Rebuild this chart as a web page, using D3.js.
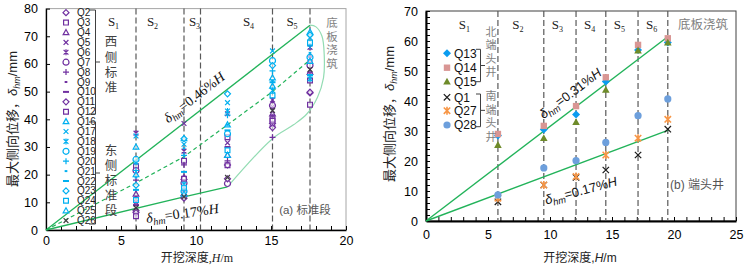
<!DOCTYPE html>
<html><head><meta charset="utf-8">
<script src="https://cdn.jsdelivr.net/npm/d3@7"></script>
<style>body{margin:0;background:#fff} svg{display:block}</style>
</head><body>
<svg id="c" width="748" height="267"></svg>
<script>
// ---------- DATA ----------
const leftDepths = [6, 9.2, 12.1, 15.1, 17.6];
const westNames = ["Q2","Q3","Q4","Q5","Q6","Q7","Q8","Q9","Q10","Q11","Q12"];
const westMarkers = ["diamond","square","triangle","x","star","circle","plus","dash","ldash","diamond","square"];
const westValues = [
  [7, 12.5, 23.5, 38.5, 49.5],
  [23, 25, 33.5, 40, 54],
  [13, 19, 27, 42, 57],
  [10, 38.5, 31.5, 44.5, 62],
  [35, 28.5, 42, 47, 66],
  [21.5, 17, 16.8, 45, 59.5],
  [18, 23.5, 25, 33.5, 57],
  [12, 15, 24, 41.5, 63],
  [9, 14, 30, 37.5, 60.5],
  [6.3, 11.5, 18.5, 37, 49.8],
  [5, 18.5, 23.4, 39.5, 45.3]
];
const eastNames = ["Q16","Q17","Q18","Q19","Q20","Q21","Q22","Q23","Q24","Q25","Q26"];
const eastMarkers = ["triangle","x","star","circle","plus","dash","ldash","diamond","square","triangle","x"];
const eastValues = [
  [30, 33, 38, 52, 71.5],
  [34, 31, 46, 64.7, 69.5],
  [24.5, 16.5, 43, 50.4, 54.6],
  [25.5, 14, 34.8, 61.2, 62.4],
  [21.5, 27, 41.5, 57.5, 66.5],
  [19, 29.5, 38, 54, 64],
  [14.5, 21, 36, 53.4, 56],
  [16.2, 33, 49.2, 59.4, 70.5],
  [10.8, 15.3, 28.8, 48.6, 67.7],
  [20, 13, 27, 55, 61],
  [8, 12, 19, 43.2, 58]
];
const leftStageLines = [6, 9.2, 10.3, 15.1, 17.6];
const leftStageNames = ["1","2","3","4","5"];
const leftStageLabelX = [4.5, 7.1, 9.9, 13.5, 16.4];
const leftUpperLine = [[0,0],[17.6,74]];
const leftMeanLine = [[0,0],[6,17],[9.2,26.5],[12.1,38],[15.1,50],[17.6,61.5]];
const leftLowerLine = [[0,0],[9.2,12],[12.1,15.6]];
const leftEnvelope = [[12.1,15.6],[15.1,33],[16.5,38],[17.4,42],[18.1,48],[18.5,55],[18.55,63],[18.4,70],[18.0,73.4],[17.6,74]];
const leftXTicks = [0,5,10,15,20];
const leftYTicks = [0,10,20,30,40,50,60,70,80];

const rightDepths = [5.8, 9.5, 12.1, 14.5, 17.1, 19.5];
const rightNames = ["Q13","Q14","Q15","Q1","Q27","Q28"];
const rightMarkers = ["diamond","square","triangle","x","star","circle"];
const rightColors = ["#0a9cf0","#d99694","#6e8b2a","#1a1a1a","#f79646","#6d9fdc"];
const rightValues = [
  [28.5, 30.5, 35.5, 46.5, 57, 59.5],
  [29, 31.7, 38.3, 47.9, 58.7, 60.9],
  [25.3, 27.6, 32.9, 43.7, 56.8, 59.4],
  [6.4, 12, 14.5, 17, 22, 30.6],
  [7.6, 12, 14.8, 22, 27.6, 33.9],
  [8.7, 17.7, 20.1, 26.2, 35.1, 40.7]
];
const rightStageLines = [5.8, 9.5, 12.1, 14.5, 17.1, 19.5];
const rightStageNames = ["1","2","3","4","5","6"];
const rightStageLabelX = [3.1, 7.4, 10.6, 13.2, 15.6, 18.2];
const rightUpperLine = [[0,0],[19.55,61.6]];
const rightLowerLine = [[0,0],[19.55,30.3]];
const rightXTicks = [0,5,10,15,20,25];
const rightYTicks = [0,10,20,30,40,50,60,70];

// ---------- DRAW ----------
const svg = d3.select("#c");
const GREEN = "#22b35a", LIGHTG = "#93dcb3", PURPLE = "#7030a0", BLUE = "#00b0f0";
const SANS = "'Liberation Sans', Arial, sans-serif";
const SERIF = "'Liberation Serif', 'Times New Roman', serif";
const CJK = "'Noto Sans CJK SC', sans-serif";

function markerPath(type, r) {
  const k = r * 0.8;
  switch (type) {
    case "diamond": return `M0,${-r}L${r},0L0,${r}L${-r},0Z`;
    case "square": return `M${-k},${-k}H${k}V${k}H${-k}Z`;
    case "triangle": return `M0,${-r}L${r*0.95},${r*0.7}L${-r*0.95},${r*0.7}Z`;
    case "x": return `M${-k},${-k}L${k},${k}M${-k},${k}L${k},${-k}`;
    case "star": return `M${-k},${-k}L${k},${k}M${-k},${k}L${k},${-k}M0,${-r}L0,${r}`;
    case "circle": return `M${r},0A${r},${r} 0 1,1 ${-r},0A${r},${r} 0 1,1 ${r},0Z`;
    case "plus": return `M${-r},0H${r}M0,${-r}V${r}`;
    case "dash": return `M${-r*0.45},0H${r*0.45}`;
    case "ldash": return `M${-r},0H${r}`;
  }
}
const strokeOnly = t => ["x","star","plus","dash","ldash"].includes(t);

function deltaText(sel, value) {
  sel.append("tspan").attr("font-style","italic").text("δ");
  sel.append("tspan").attr("font-style","italic").attr("font-size","0.72em").attr("dy",3).text("hm");
  sel.append("tspan").attr("dy",-3).text("=" + value + "%");
  sel.append("tspan").attr("font-style","italic").text("H");
}

// vertical CJK text: a single text node laid out top-to-bottom
function verticalText(g, str, x, yCenterFirst, step, size, color) {
  g.append("text").attr("x", x).attr("y", yCenterFirst - size / 2)
    .attr("writing-mode","vertical-rl").style("text-orientation","upright")
    .attr("letter-spacing", step - size)
    .attr("font-family", CJK).attr("font-size", size).attr("fill", color).text(str);
}

function panel(cfg) {
  const g = svg.append("g");
  const x = d3.scaleLinear().domain(cfg.xDomain).range(cfg.xRange);
  const y = d3.scaleLinear().domain(cfg.yDomain).range(cfg.yRange);
  g.append("rect").attr("x", cfg.xRange[0]).attr("y", cfg.yRange[1])
    .attr("width", cfg.xRange[1]-cfg.xRange[0]).attr("height", cfg.yRange[0]-cfg.yRange[1])
    .attr("fill","none").attr("stroke", cfg.frameColor).attr("stroke-width",1);
  const xa = g.append("g").attr("transform",`translate(0,${cfg.yRange[0]})`)
    .call(d3.axisBottom(x).tickValues(cfg.xTicks).tickSize(0).tickPadding(cfg.xPad).tickFormat(d3.format("d")));
  const xm = g.append("g").attr("transform",`translate(0,${cfg.yRange[0]})`)
    .call(d3.axisTop(x).ticks(cfg.xDomain[1]).tickSize(cfg.tickLen).tickFormat(""));
  const ya = g.append("g").attr("transform",`translate(${cfg.xRange[0]},0)`)
    .call(d3.axisLeft(y).tickValues(cfg.yTicks).tickSize(0).tickPadding(8).tickFormat(d3.format("d")));
  const ym = g.append("g").attr("transform",`translate(${cfg.xRange[0]},0)`)
    .call(d3.axisRight(y).ticks(cfg.yMinor).tickSize(cfg.tickLen).tickFormat(""));
  [xa, ya].forEach(a => {
    a.select(".domain").attr("stroke","#000").attr("stroke-width", cfg.axisW);
    a.selectAll("text").attr("font-family", SANS).attr("font-size", 12.5).attr("fill","#000");
  });
  [xm, ym].forEach(a => { a.select(".domain").remove(); a.selectAll("line").attr("stroke","#000").attr("stroke-width",1); });
  g.selectAll(".st").data(cfg.stageLines).join("line")
    .attr("x1", d => x(d)).attr("x2", d => x(d)).attr("y1", cfg.yRange[1]).attr("y2", cfg.yRange[0])
    .attr("stroke","#595959").attr("stroke-width",1.2).attr("stroke-dasharray","6,3");
  cfg.stageNames.forEach((n, i) => {
    const t = g.append("text").attr("x", x(cfg.stageLabelX[i])).attr("y", cfg.stageY)
      .attr("text-anchor","middle").attr("font-family", SERIF).attr("font-size", 13).attr("fill","#222");
    t.append("tspan").text("S");
    t.append("tspan").attr("font-size", 8).attr("dy", 3).text(n);
  });
  return {g, x, y};
}

// ---------- LEFT PANEL ----------
const L = panel({xDomain:[0,20], xRange:[46,346], yDomain:[0,80], yRange:[230,8.6], xPad:6,
  xTicks:leftXTicks, yTicks:leftYTicks, yMinor:8, tickLen:4, axisW:1.3, frameColor:"#a6a6a6",
  stageLines:leftStageLines, stageNames:leftStageNames, stageLabelX:leftStageLabelX, stageY:26});
const lineGen = s => d3.line().x(d => s.x(d[0])).y(d => s.y(d[1]));
L.g.append("path").attr("d", lineGen(L)(leftUpperLine)).attr("fill","none").attr("stroke",GREEN).attr("stroke-width",1.3);
L.g.append("path").attr("d", lineGen(L)(leftMeanLine)).attr("fill","none").attr("stroke",GREEN).attr("stroke-width",1.2).attr("stroke-dasharray","4,3");
L.g.append("path").attr("d", lineGen(L)(leftLowerLine)).attr("fill","none").attr("stroke",GREEN).attr("stroke-width",1.3);
L.g.append("path").attr("d", lineGen(L).curve(d3.curveCatmullRom)(leftEnvelope)).attr("fill","none").attr("stroke",LIGHTG).attr("stroke-width",1.2);

const leftSeries = westNames.map((n,i)=>({name:n, type:westMarkers[i], color:PURPLE, values:westValues[i]}))
  .concat(eastNames.map((n,i)=>({name:n, type:eastMarkers[i], color: n==="Q26" ? "#404040" : BLUE, values:eastValues[i]})));
leftSeries.forEach(s => {
  L.g.selectAll(null).data(s.values.map((v,i)=>[leftDepths[i], v])).join("path")
    .attr("transform", d => `translate(${L.x(d[0])},${L.y(d[1])})`)
    .attr("d", markerPath(s.type, 3))
    .attr("fill", "#fff").attr("fill-opacity", strokeOnly(s.type) ? 0 : 0.6)
    .attr("stroke", s.color).attr("stroke-width", (s.type==="dash"||s.type==="ldash") ? 2 : 1.2);
});
leftSeries.forEach((s, i) => {
  const yy = 12.7 + i * 9.9;
  L.g.append("path").attr("transform",`translate(66,${yy})`).attr("d", markerPath(s.type, 3))
    .attr("fill","none").attr("stroke", s.color).attr("stroke-width", (s.type==="dash"||s.type==="ldash") ? 2 : 1.2);
  L.g.append("text").attr("x",77).attr("y",yy+3.5).attr("font-family",SANS).attr("font-size",10).attr("fill","#222").text(s.name);
});
function bracket(g, x0, x1, y0, y1, xt) {
  const ym = (y0+y1)/2;
  g.append("path").attr("d",`M${x0},${y0}H${x1}V${y1}H${x0}M${x1},${ym}H${xt}`)
    .attr("fill","none").attr("stroke","#404040").attr("stroke-width",1);
}
bracket(L.g, 89, 95.5, 10, 114, 100);
bracket(L.g, 89, 95.5, 122, 224, 100);
verticalText(L.g, "西侧标准", 111, 41.7, 15.2, 12.5, "#404040");
verticalText(L.g, "东侧标准段", 111, 150.7, 15, 12.5, "#404040");
verticalText(L.g, "底板浇筑", 332, 22.3, 13.9, 11.5, "#7f7f7f");
L.g.append("text").attr("transform","translate(197,101) rotate(-38)").attr("text-anchor","middle")
  .attr("font-family",SERIF).attr("font-size",14).attr("fill","#111").call(deltaText, "0.46");
L.g.append("text").attr("transform","translate(183,218) rotate(-8)").attr("text-anchor","middle")
  .attr("font-family",SERIF).attr("font-size",14).attr("fill","#111").call(deltaText, "0.17");
const tA = L.g.append("text").attr("x",305).attr("y",214).attr("text-anchor","middle").attr("font-size",11.5).attr("fill","#555");
tA.append("tspan").attr("font-family",SANS).text("(a) ");
tA.append("tspan").attr("font-family",CJK).text("标准段");
const xtL = L.g.append("text").attr("x",197).attr("y",262).attr("text-anchor","middle").attr("font-size",12).attr("fill","#222");
xtL.append("tspan").attr("font-family",CJK).text("开挖深度");
xtL.append("tspan").attr("font-family",SERIF).text(",");
xtL.append("tspan").attr("font-family",SERIF).attr("font-style","italic").text("H");
xtL.append("tspan").attr("font-family",SERIF).text("/m");
function yTitle(g, cx, cy) {
  const t = g.append("text").attr("transform",`translate(${cx},${cy}) rotate(-90)`).attr("text-anchor","middle")
    .attr("font-size",13).attr("fill","#222");
  t.append("tspan").attr("font-family",CJK).text("最大侧向位移，");
  t.append("tspan").attr("font-family",SANS).attr("font-style","italic").text("δ");
  t.append("tspan").attr("font-family",SANS).attr("font-style","italic").attr("font-size",9).attr("dy",3).text("hm");
  t.append("tspan").attr("font-family",SANS).attr("dy",-3).text("/mm");
}
yTitle(L.g, 17, 119);

// ---------- RIGHT PANEL ----------
const R = panel({xDomain:[0,25], xRange:[426,736], yDomain:[0,70], yRange:[221,11], xPad:9,
  xTicks:rightXTicks, yTicks:rightYTicks, yMinor:35, tickLen:4, axisW:2, frameColor:"#404040",
  stageLines:rightStageLines, stageNames:rightStageNames, stageLabelX:rightStageLabelX, stageY:29});
R.g.append("path").attr("d", lineGen(R)(rightUpperLine)).attr("fill","none").attr("stroke",GREEN).attr("stroke-width",1.4);
R.g.append("path").attr("d", lineGen(R)(rightLowerLine)).attr("fill","none").attr("stroke",GREEN).attr("stroke-width",1.4);
rightNames.forEach((n, k) => {
  const t = rightMarkers[k], col = rightColors[k], so = strokeOnly(t);
  R.g.selectAll(null).data(rightValues[k].map((v,i)=>[rightDepths[i], v])).join("path")
    .attr("transform", d => `translate(${R.x(d[0])},${R.y(d[1])})`)
    .attr("d", markerPath(t, t==="circle" ? 3.6 : 4))
    .attr("fill", so ? "none" : col).attr("stroke", so ? col : "none").attr("stroke-width", t==="star" ? 1.6 : 1.2);
  const yy = [53.3,67.7,81.7,97.3,110.7,125][k];
  R.g.append("path").attr("transform",`translate(447,${yy})`).attr("d", markerPath(t, t==="circle"?3.6:4))
    .attr("fill", so ? "none" : col).attr("stroke", so ? col : "none").attr("stroke-width", t==="star" ? 1.6 : 1.2);
  R.g.append("text").attr("x",454).attr("y",yy+4.3).attr("font-family",SANS).attr("font-size",12).attr("fill","#111").text(n);
});
bracket(R.g, 476, 480.5, 49.3, 81.7, 485);
bracket(R.g, 476, 480.5, 94, 126.7, 485);
verticalText(R.g, "北端头井", 491, 31.7, 13.5, 11, "#7f7f7f");
verticalText(R.g, "南端头井", 491, 96, 13.5, 11, "#7f7f7f");
R.g.append("text").attr("x",703).attr("y",28.5).attr("text-anchor","middle").attr("font-family",CJK)
  .attr("font-size",12.5).attr("fill","#7f7f7f").text("底板浇筑");
R.g.append("text").attr("transform","translate(573,97) rotate(-37)").attr("text-anchor","middle")
  .attr("font-family",SANS).attr("font-size",13).attr("fill","#111").call(deltaText, "0.31");
R.g.append("text").attr("transform","translate(582,195) rotate(-15)").attr("text-anchor","middle")
  .attr("font-family",SANS).attr("font-size",13).attr("fill","#111").call(deltaText, "0.17");
const tB = R.g.append("text").attr("x",697).attr("y",189).attr("text-anchor","middle").attr("font-size",12).attr("fill","#555");
tB.append("tspan").attr("font-family",SANS).text("(b) ");
tB.append("tspan").attr("font-family",CJK).text("端头井");
const xtR = R.g.append("text").attr("x",580).attr("y",262).attr("text-anchor","middle").attr("font-size",12).attr("fill","#222");
xtR.append("tspan").attr("font-family",CJK).text("开挖深度");
xtR.append("tspan").attr("font-family",SANS).text(",");
xtR.append("tspan").attr("font-family",SANS).attr("font-style","italic").text("H");
xtR.append("tspan").attr("font-family",SANS).text("/m");
yTitle(R.g, 394, 114);
</script></body></html>
